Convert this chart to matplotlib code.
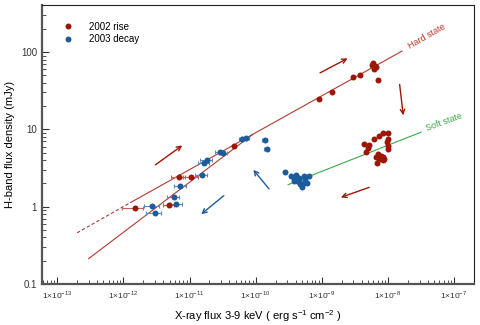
import matplotlib
matplotlib.use("Agg")
import matplotlib.pyplot as plt
from matplotlib.ticker import FixedLocator, LogLocator, NullFormatter

plt.rcParams['font.family'] = ['Liberation Sans', 'DejaVu Sans']
plt.rcParams['mathtext.fontset'] = 'custom'
plt.rcParams['mathtext.rm'] = 'Liberation Sans'

RED = '#9c1606'
BLUE = '#1c5c9c'
GREEN = '#3aaa4a'
LINE_RED = '#b33a2c'

# 2002 rise: x-ray flux (erg/s/cm2), H-band flux (mJy), relative x error
rise_x = [1.48e-12, 4.9e-12, 6.9e-12, 1.07e-11, 4.7e-11,
          9.2e-10, 1.4e-9, 2.98e-9, 3.77e-9,
          5.86e-9, 6.6e-9, 6.2e-9, 5.7e-9, 6.3e-9, 7.0e-9,
          8.32e-9, 9.89e-9, 7.38e-9, 1.0e-8, 6.19e-9, 4.38e-9, 5.21e-9,
          4.92e-9, 4.64e-9, 9.89e-9, 9.89e-9, 6.98e-9, 7.83e-9, 8.32e-9,
          7.38e-9, 8.79e-9, 6.58e-9, 6.75e-9, 8.3e-9, 8.0e-9, 9.6e-9]
rise_y = [0.96, 1.06, 2.4, 2.4, 6.07,
          24.5, 30.5, 46.9, 50.3,
          71.3, 64.4, 61.2, 68.0, 66.0, 43.3,
          8.95, 8.95, 8.28, 7.48, 7.48, 6.44, 6.25,
          5.66, 5.03, 6.14, 5.55, 4.78, 4.55, 4.33,
          4.11, 4.11, 4.33, 3.73, 4.0, 4.2, 6.8]
rise_xerr = [0.35, 0.2, 0.25, 0.25]

# 2003 decay
decay_x = [2.72e-12, 2.98e-12, 6.35e-12, 5.8e-12, 7.3e-12, 1.52e-11,
           1.65e-11, 1.81e-11, 2.88e-11, 3.24e-11, 6.3e-11, 7.1e-11,
           1.37e-10, 1.47e-10,
           2.82e-10, 3.36e-10, 3.77e-10, 4.23e-10, 3.77e-10, 4.75e-10,
           5.03e-10, 5.33e-10, 5.66e-10, 6.35e-10, 5.98e-10, 4.49e-10,
           5.33e-10, 4.0e-10, 4.5e-10, 5.5e-10]
decay_y = [1.01, 0.84, 1.08, 1.32, 1.83, 2.58,
           3.69, 3.96, 5.03, 4.98, 7.4, 7.8,
           7.2, 5.55,
           2.77, 2.50, 2.38, 2.16, 2.16, 1.95,
           1.82, 2.50, 2.26, 2.50, 2.05, 2.38,
           2.05, 2.6, 2.2, 2.4]
decay_xerr = [0.25, 0.25, 0.2, 0.2, 0.2, 0.2, 0.2, 0.2, 0.15, 0.15,
              0.12, 0.12, 0.1, 0.1]

# correlation lines (x, y end points)
hard_dash_x = [2.0e-13, 1.3e-12]
hard_dash_y = [0.46, 1.14]
hard_x = [1.3e-12, 1.63e-8]
hard_y = [1.14, 103]
steep_x = [2.98e-13, 9e-11]
steep_y = [0.213, 8.6]
soft_x = [3.1e-10, 3.16e-8]
soft_y = [1.93, 9.2]

# arrows: (x_start, y_start, x_end, y_end, colour)
arrows = [
    (3.05e-12, 3.48, 7.77e-12, 6.2, RED),
    (9.4e-10, 53.8, 2.45e-9, 82.8, RED),
    (1.5e-8, 38.0, 1.7e-8, 15.2, RED),
    (5.2e-9, 1.78, 1.94e-9, 1.32, RED),
    (1.59e-10, 1.70, 9.2e-11, 3.0, BLUE),
    (3.3e-11, 1.39, 1.5e-11, 0.80, BLUE),
]

fig = plt.figure(figsize=(4.8, 3.25), dpi=100)
ax = fig.add_axes([0.0875, 0.126, 0.9, 0.859])
ax.set_xscale('log')
ax.set_yscale('log')
ax.set_xlim(10**-13.23, 10**-6.7)
ax.set_ylim(0.1, 10**2.61)

ax.plot(hard_dash_x, hard_dash_y, color=LINE_RED, lw=0.8, ls=(0, (3, 2)))
ax.plot(hard_x, hard_y, color=LINE_RED, lw=0.8)
ax.plot(steep_x, steep_y, color=LINE_RED, lw=0.8)
ax.plot(soft_x, soft_y, color=GREEN, lw=0.8)

n = len(rise_xerr)
ax.errorbar(rise_x[:n], rise_y[:n],
            xerr=[x * e for x, e in zip(rise_x[:n], rise_xerr)],
            fmt='none', ecolor='#c0645a', elinewidth=0.8, capsize=1.5, capthick=0.8)
m = len(decay_xerr)
ax.errorbar(decay_x[:m], decay_y[:m],
            xerr=[x * e for x, e in zip(decay_x[:m], decay_xerr)],
            fmt='none', ecolor='#5a8cc4', elinewidth=0.8, capsize=1.5, capthick=0.8)

ax.plot(rise_x, rise_y, 'o', color=RED, ms=4.3, mec='none', label='2002 rise')
ax.plot(decay_x, decay_y, 'o', color=BLUE, ms=4.3, mec='none', label='2003 decay')

for x0, y0, x1, y1, c in arrows:
    ax.annotate('', xy=(x1, y1), xytext=(x0, y0),
                arrowprops=dict(arrowstyle='->', color=c, lw=1.0,
                                mutation_scale=8, shrinkA=0, shrinkB=0))

ax.text(3.85e-8, 158, 'Hard state', color='#c0392b', fontsize=6.5,
        rotation=30, ha='center', va='center')
ax.text(7.0e-8, 12.4, 'Soft state', color=GREEN, fontsize=6.5,
        rotation=20, ha='center', va='center')

ax.legend(loc='upper left', frameon=False, fontsize=7, handletextpad=1.2,
          borderaxespad=0.6, labelspacing=0.25, bbox_to_anchor=(0.015, 0.975))

xt = [1e-13, 1e-12, 1e-11, 1e-10, 1e-9, 1e-8, 1e-7]
ax.xaxis.set_major_locator(FixedLocator(xt))
ax.set_xticklabels([r'1$\times$10$^{%d}$' % e for e in range(-13, -6)], fontsize=6)
ax.xaxis.set_minor_locator(LogLocator(base=10, subs=range(2, 10), numticks=20))
ax.xaxis.set_minor_formatter(NullFormatter())
yt = [0.1, 1, 10, 100]
ax.yaxis.set_major_locator(FixedLocator(yt))
ax.set_yticklabels(['0.1', '1', '10', '100'], fontsize=7)
ax.yaxis.set_minor_locator(LogLocator(base=10, subs=range(2, 10), numticks=20))
ax.yaxis.set_minor_formatter(NullFormatter())
ax.tick_params(which='both', direction='in', top=False, right=False, colors='#333333')
ax.tick_params(which='major', length=5, width=0.8)
ax.tick_params(which='minor', length=3, width=0.6)

for s in ['left', 'bottom']:
    ax.spines[s].set_linewidth(1.6)
    ax.spines[s].set_color('#555555')
for s in ['top', 'right']:
    ax.spines[s].set_linewidth(0.8)
    ax.spines[s].set_color('#222222')

ax.set_xlabel(r'X-ray flux 3-9 keV ( erg s$^{-1}$ cm$^{-2}$ )', fontsize=8, labelpad=5)
ax.set_ylabel('H-band flux density (mJy)', fontsize=8, labelpad=4)

fig.savefig('out.png', dpi=100)
